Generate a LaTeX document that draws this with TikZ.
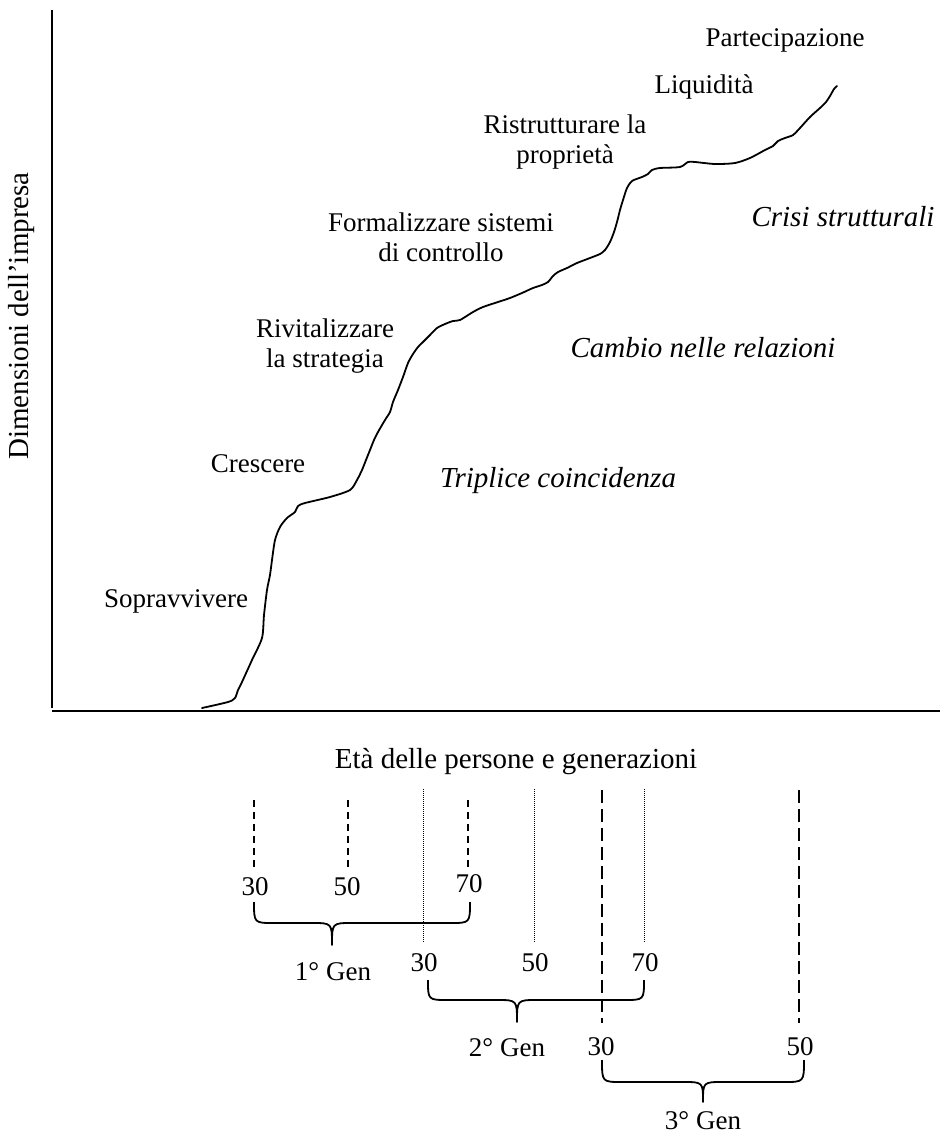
\documentclass[tikz,border=0pt]{standalone}
\usepackage{fontspec}
\setmainfont{Liberation Serif}
\newcommand{\genbrace}[6]{%
  \draw[bracestyle] (#1,#4) .. controls (#1,#5) and (#1,#5) .. ({#1+20},#5)
    -- ({#3-20},#5) .. controls (#3,#5) and (#3,#5) .. (#3,#6)
    .. controls (#3,#5) and (#3,#5) .. ({#3+20},#5)
    -- ({#2-20},#5) .. controls (#2,#5) and (#2,#5) .. (#2,#4);}
\begin{document}
\begin{tikzpicture}[x=1pt,y=-1pt,
  lbl/.style={inner sep=0pt, align=center, font=\fontsize{27}{30}\selectfont},
  ital/.style={inner sep=0pt, align=center, font=\fontsize{29}{32}\selectfont\itshape},
  axislbl/.style={inner sep=0pt, font=\fontsize{29}{32}\selectfont},
  axisline/.style={line width=2pt},
  curvestyle/.style={line width=1.8pt, line join=round, line cap=round},
  shortdash/.style={line width=1.6pt, dash pattern=on 7pt off 5pt},
  longdash/.style={line width=1.8pt, dash pattern=on 13pt off 6pt},
  finedot/.style={line width=1pt, dash pattern=on 1pt off 1pt},
  bracestyle/.style={line width=1.8pt, line join=round}]
\useasboundingbox (0,0) rectangle (940,1136);

% axes
\coordinate (ytop) at (52,10);
\coordinate (orig) at (52,711);
\coordinate (xend) at (940,711);
\draw[axisline] (ytop) -- (52,708);
\draw[axisline] (orig) -- (xend);

% growth curve
\draw[curvestyle] plot[smooth, tension=0.45] coordinates {
(202,708) (228,702) (235,698) (238,690) (242,682) (252,660) (262,638) (264,615)
(267,590) (270,575) (272,560) (275,540) (280,527) (287,518) (295,512) (298,506)
(305,503) (330,497) (350,490) (357,480) (362,470) (366,460) (370,450) (374,440)
(378,432) (385,420) (390,412) (393,402) (398,390) (403,377) (408,363) (413,354)
(418,347) (423,342) (430,335) (437,328) (445,324) (453,321) (460,320) (473,312)
(483,307) (498,302) (510,298) (522,293) (533,288) (542,285) (548,282) (553,276)
(558,272) (567,268) (577,263) (590,258) (600,254) (605,250) (610,242) (614,232)
(617,222) (620,210) (623,200) (627,188) (632,181) (642,177) (648,174) (652,170)
(660,168) (680,167) (688,162) (695,162) (715,164) (735,163) (750,158) (765,150)
(773,146) (778,141) (785,138) (793,135) (800,128) (810,117) (820,108) (826,102)
(830,96) (834,89) (837,86)};

% labels
\node[lbl] (part) at (785,40) {Partecipazione};
\node[lbl] (liq) at (704,87) {Liquidità};
\node[lbl] (ristr) at (565,142) {Ristrutturare la\\proprietà};
\node[ital] (crisi) at (843,217) {Crisi strutturali};
\node[lbl] (form) at (441,237) {Formalizzare sistemi\\di controllo};
\node[lbl] (rivit) at (325,346) {Rivitalizzare\\la strategia};
\node[ital] (cambio) at (703,348) {Cambio nelle relazioni};
\node[lbl] (cresc) at (258,464) {Crescere};
\node[ital] (tripl) at (558,481) {Triplice coincidenza};
\node[lbl] (sopr) at (176,601) {Sopravvivere};
\node[axislbl, rotate=90] (ylab) at (22,316) {Dimensioni dell’impresa};
\node[axislbl] (xlab) at (516,762) {Età delle persone e generazioni};

% generation guide lines
\draw[shortdash] (254,800) -- (254,868);
\draw[shortdash] (348,800) -- (348,868);
\draw[shortdash] (468,800) -- (468,868);
\draw[finedot] (423,789) -- (423,943);
\draw[finedot] (534,789) -- (534,943);
\draw[finedot] (644,789) -- (644,943);
\draw[longdash] (602,790) -- (602,1023);
\draw[longdash] (799,790) -- (799,1023);

% ages
\node[lbl] (a30) at (255,887) {30};
\node[lbl] (a50) at (347,887) {50};
\node[lbl] (a70) at (469,884) {70};
\node[lbl] (b30) at (424,963) {30};
\node[lbl] (b50) at (535,963) {50};
\node[lbl] (b70) at (645,963) {70};
\node[lbl] (c30) at (601,1047) {30};
\node[lbl] (c50) at (800,1047) {50};

% braces
\genbrace{254}{470}{332}{902}{923}{945}
\genbrace{428}{644}{517}{980}{1000}{1022}
\genbrace{602}{804}{703}{1060}{1082}{1102}

\node[lbl] (g1) at (333,972) {1° Gen};
\node[lbl] (g2) at (507,1048) {2° Gen};
\node[lbl] (g3) at (703,1121) {3° Gen};
\end{tikzpicture}
\end{document}
